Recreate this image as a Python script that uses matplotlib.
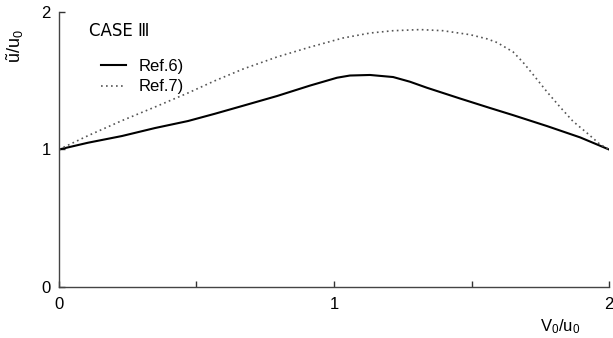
import numpy as np
import matplotlib
matplotlib.use("Agg")
import matplotlib.pyplot as plt

plt.rcParams["font.family"] = ["Liberation Sans", "DejaVu Sans"]
plt.rcParams["mathtext.fontset"] = "custom"
plt.rcParams["mathtext.rm"] = "Liberation Sans"
plt.rcParams["mathtext.it"] = "Liberation Sans"

# Ref.6) solid curve
x_ref6 = [0.0, 0.105, 0.229, 0.349, 0.469, 0.567, 0.669, 0.793, 0.913, 1.011, 1.058,
          1.131, 1.215, 1.276, 1.338, 1.458, 1.567, 1.651, 1.775, 1.895, 2.0]
y_ref6 = [1.0, 1.049, 1.098, 1.156, 1.207, 1.26, 1.318, 1.389, 1.465, 1.522, 1.538,
          1.542, 1.527, 1.493, 1.449, 1.371, 1.302, 1.25, 1.17, 1.088, 1.0]

# Ref.7) dotted curve
x_ref7 = [0.0, 0.105, 0.229, 0.349, 0.469, 0.567, 0.669, 0.793, 0.913, 1.033, 1.131,
          1.215, 1.313, 1.396, 1.495, 1.556, 1.593, 1.651, 1.687, 1.724, 1.775, 1.822,
          1.869, 1.920, 1.967, 2.0]
y_ref7 = [1.0, 1.1, 1.21, 1.309, 1.411, 1.5, 1.585, 1.673, 1.745, 1.811, 1.847,
          1.864, 1.872, 1.864, 1.835, 1.805, 1.778, 1.71, 1.635, 1.545, 1.418, 1.309,
          1.205, 1.12, 1.038, 1.0]

fig = plt.figure(figsize=(6.13, 3.38), dpi=100)
ax = fig.add_axes([0.0962, 0.1509, 0.8973, 0.8136])

ax.plot(x_ref6, y_ref6, color="black", lw=1.5, label="Ref.6)")
ax.plot(x_ref7, y_ref7, color="#555555", lw=1.2, linestyle=(0, (1, 2)), label="Ref.7)")

ax.set_xlim(0, 2)
ax.set_ylim(0, 2)
ax.set_xticks([0, 1, 2])
ax.set_xticks([0.5, 1.5], minor=True)
ax.set_yticks([0, 1, 2])
ax.tick_params(direction="in", length=4, width=1, labelsize=12, colors="#333333",
               labelcolor="black")
ax.tick_params(which="minor", direction="in", length=4, width=1, colors="#333333")
ax.tick_params(axis="x", pad=7)
ax.tick_params(axis="y", pad=6)

for s in ["top", "right"]:
    ax.spines[s].set_visible(False)
for s in ["left", "bottom"]:
    ax.spines[s].set_color("#444444")
    ax.spines[s].set_linewidth(1.0)

ax.text(0.947, -0.11, r"V$_0$/u$_0$", transform=ax.transAxes, ha="right", va="top",
        fontsize=12)
fig.text(0.025, 0.865, r"$\tilde{\mathrm{u}}$/u$_0$", rotation=90, ha="center",
         va="center", fontsize=13)

ax.text(0.055, 0.93, "CASE \u2162", transform=ax.transAxes, fontsize=12,
        family=["DejaVu Sans"], va="center")
leg = ax.legend(loc="upper left", bbox_to_anchor=(0.05, 0.885), frameon=False,
                fontsize=12, handlelength=1.5, handletextpad=0.7, labelspacing=0.35)

fig.savefig("out.png", dpi=100)
